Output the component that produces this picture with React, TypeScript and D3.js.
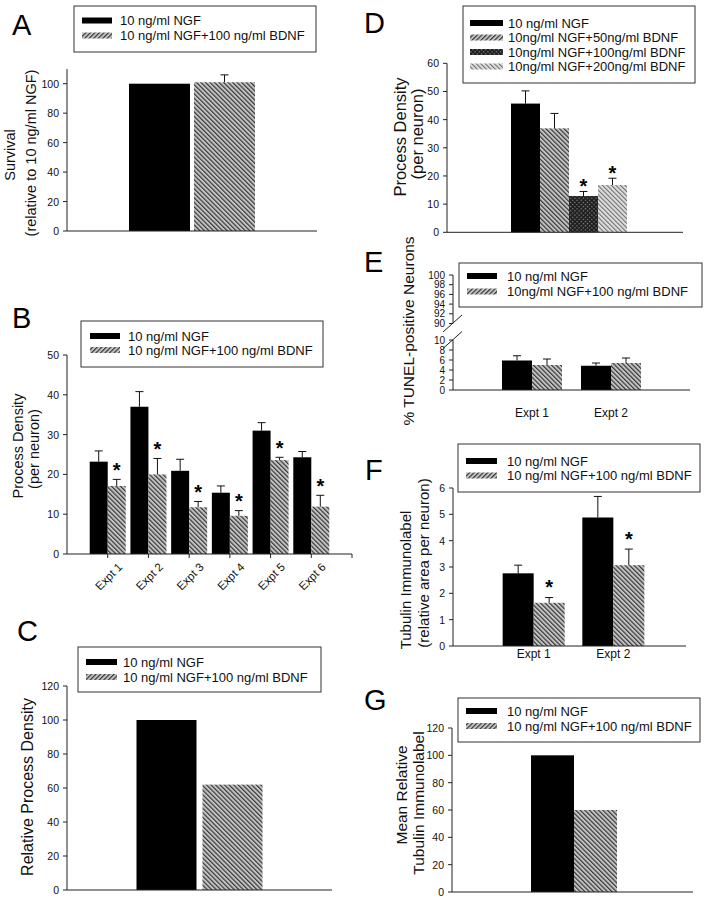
import React from "react";
import * as d3 from "d3";

const W = 709;
const H = 900;
const FONT = "Liberation Sans, Arial, Helvetica, sans-serif";

// ---------- legend labels ----------
const legendTwo = ["10 ng/ml NGF", "10 ng/ml NGF+100 ng/ml BDNF"];
const legendD = [
  "10 ng/ml NGF",
  "10ng/ml NGF+50ng/ml BDNF",
  "10ng/ml NGF+100ng/ml BDNF",
  "10ng/ml NGF+200ng/ml BDNF",
];
const legendE = ["10 ng/ml NGF", "10ng/ml NGF+100 ng/ml BDNF"];

// ---------- Panel A ----------
const aCategories = ["Survival"];
const aNGF = [100];
const aNGFErr = [0];
const aBDNF = [101];
const aBDNFErr = [5];
const aTicks = [0, 20, 40, 60, 80, 100];

// ---------- Panel B ----------
const bCategories = ["Expt 1", "Expt 2", "Expt 3", "Expt 4", "Expt 5", "Expt 6"];
const bNGF = [23.2, 37.0, 20.9, 15.4, 31.0, 24.3];
const bNGFErr = [2.7, 3.8, 2.9, 1.7, 2.0, 1.45];
const bBDNF = [17.1, 20.0, 11.75, 9.6, 23.6, 11.9];
const bBDNFErr = [1.65, 4.0, 1.45, 1.3, 0.7, 2.85];
const bStars = [true, true, true, true, true, true];
const bTicks = [0, 10, 20, 30, 40, 50];

// ---------- Panel C ----------
const cCategories = ["Relative"];
const cNGF = [100];
const cBDNF = [62];
const cTicks = [0, 20, 40, 60, 80, 100, 120];

// ---------- Panel D ----------
const dCategories = ["Dose"];
const dNGF = [45.7];
const dNGFErr = [4.5];
const dBDNF50 = [36.9];
const dBDNF50Err = [5.3];
const dBDNF100 = [12.9];
const dBDNF100Err = [1.6];
const dBDNF200 = [16.8];
const dBDNF200Err = [2.4];
const dStars100 = [true];
const dStars200 = [true];
const dTicks = [0, 10, 20, 30, 40, 50, 60];

// ---------- Panel E ----------
const eCategories = ["Expt 1", "Expt 2"];
const eNGF = [5.9, 4.85];
const eNGFErr = [0.95, 0.55];
const eBDNF = [5.0, 5.4];
const eBDNFErr = [1.2, 1.0];
const eTicks = [0, 2, 4, 6, 8, 10, 90, 92, 94, 96, 98, 100];
const eBreakDomain = [0, 10, 90, 100];

// ---------- Panel F ----------
const fCategories = ["Expt 1", "Expt 2"];
const fNGF = [2.76, 4.88];
const fNGFErr = [0.31, 0.8];
const fBDNF = [1.64, 3.07];
const fBDNFErr = [0.2, 0.61];
const fStars = [true, true];
const fTicks = [0, 1, 2, 3, 4, 5, 6];

// ---------- Panel G ----------
const gCategories = ["Mean"];
const gNGF = [100];
const gBDNF = [60];
const gTicks = [0, 20, 40, 60, 80, 100, 120];

type Series = { values: number[]; errors?: number[]; stars?: boolean[]; fill: string };

type PanelCfg = {
  id: string;
  letter: string;
  letterPos: [number, number];
  axisX: number;
  axisRight: number;
  yDomain: number[];
  yRange: number[];
  yAxisTop: number;
  ySegments?: [number, number][];
  breaks?: number[];
  ticks: number[];
  tickFont: number;
  categories: string[];
  groupRange: [number, number];
  groupPadding: number;
  barWidth: number;
  barGap: number;
  series: Series[];
  starGap: number;
  legend: {
    x: number; y: number; w: number; h: number;
    rowY: number[]; swatchX: number; swatchW: number; textX: number;
    labels: string[]; fills: string[];
  };
  yLabels: { text: string; x: number; y: number }[];
  yLabelFont: number;
  xLabelMode: "none" | "rotated" | "flat";
  xLabelY?: number;
  xTickMarks?: boolean;
};

const BLACK = "#000";
const HATCH = "url(#hatch)";
const HATCH_L = "url(#hatchLegend)";
const CROSS = "url(#cross)";
const LIGHT = "url(#light)";
const LIGHT_L = "url(#lightLegend)";

const panels: PanelCfg[] = [
  {
    id: "A", letter: "A", letterPos: [12, 35],
    axisX: 67, axisRight: 317, yDomain: [0, 100], yRange: [231, 83.7], yAxisTop: 110,
    ticks: aTicks, tickFont: 10.5,
    categories: aCategories, groupRange: [67, 317], groupPadding: 0.5,
    barWidth: 61, barGap: 4,
    series: [
      { values: aNGF, errors: aNGFErr, fill: BLACK },
      { values: aBDNF, errors: aBDNFErr, fill: HATCH },
    ],
    starGap: 14,
    legend: { x: 74, y: 6, w: 242, h: 46, rowY: [20.5, 35.5], swatchX: 82, swatchW: 30, textX: 120, labels: legendTwo, fills: [BLACK, HATCH_L] },
    yLabels: [
      { text: "Survival", x: 10, y: 155 },
      { text: "(relative to 10 ng/ml NGF)", x: 31, y: 153 },
    ],
    yLabelFont: 14.5,
    xLabelMode: "none",
  },
  {
    id: "B", letter: "B", letterPos: [12, 328],
    axisX: 67, axisRight: 352, yDomain: [0, 50], yRange: [554, 355], yAxisTop: 50,
    ticks: bTicks, tickFont: 10.5,
    categories: bCategories, groupRange: [67, 352], groupPadding: 1,
    barWidth: 18, barGap: 0,
    series: [
      { values: bNGF, errors: bNGFErr, fill: BLACK },
      { values: bBDNF, errors: bBDNFErr, stars: bStars, fill: HATCH },
    ],
    starGap: 14,
    legend: { x: 81, y: 321, w: 242, h: 46, rowY: [336, 350], swatchX: 90, swatchW: 30, textX: 128, labels: legendTwo, fills: [BLACK, HATCH_L] },
    yLabels: [
      { text: "Process Density", x: 18, y: 446 },
      { text: "(per neuron)", x: 34, y: 449 },
    ],
    yLabelFont: 14.5,
    xLabelMode: "rotated",
    xTickMarks: true,
  },
  {
    id: "C", letter: "C", letterPos: [17, 641],
    axisX: 67, axisRight: 332, yDomain: [0, 120], yRange: [890, 686], yAxisTop: 120,
    ticks: cTicks, tickFont: 10.5,
    categories: cCategories, groupRange: [67, 332], groupPadding: 0.5,
    barWidth: 60, barGap: 6,
    series: [
      { values: cNGF, fill: BLACK },
      { values: cBDNF, fill: HATCH },
    ],
    starGap: 14,
    legend: { x: 78, y: 647, w: 243, h: 45, rowY: [662, 677], swatchX: 86, swatchW: 31, textX: 123, labels: legendTwo, fills: [BLACK, HATCH_L] },
    yLabels: [{ text: "Relative Process Density", x: 27, y: 787 }],
    yLabelFont: 16,
    xLabelMode: "none",
  },
  {
    id: "D", letter: "D", letterPos: [364, 33],
    axisX: 447, axisRight: 683, yDomain: [0, 60], yRange: [232.3, 63.3], yAxisTop: 60,
    ticks: dTicks, tickFont: 10.5,
    categories: dCategories, groupRange: [447, 691], groupPadding: 0.5,
    barWidth: 29, barGap: 0,
    series: [
      { values: dNGF, errors: dNGFErr, fill: BLACK },
      { values: dBDNF50, errors: dBDNF50Err, fill: HATCH },
      { values: dBDNF100, errors: dBDNF100Err, stars: dStars100, fill: CROSS },
      { values: dBDNF200, errors: dBDNF200Err, stars: dStars200, fill: LIGHT },
    ],
    starGap: 10,
    legend: {
      x: 463, y: 6, w: 232, h: 77, rowY: [23, 37.5, 52, 66.5], swatchX: 470, swatchW: 33, textX: 508,
      labels: legendD, fills: [BLACK, HATCH_L, CROSS, LIGHT_L],
    },
    yLabels: [
      { text: "Process Density", x: 400, y: 137 },
      { text: "(per neuron)", x: 417, y: 134 },
    ],
    yLabelFont: 16.5,
    xLabelMode: "none",
  },
  {
    id: "E", letter: "E", letterPos: [364, 272],
    axisX: 453, axisRight: 690, yDomain: eBreakDomain, yRange: [390, 340, 323.5, 275], yAxisTop: 100,
    ySegments: [[0, 10], [90, 100]], breaks: [10, 90],
    ticks: eTicks, tickFont: 10,
    categories: eCategories, groupRange: [453, 690], groupPadding: 1,
    barWidth: 30, barGap: 0,
    series: [
      { values: eNGF, errors: eNGFErr, fill: BLACK },
      { values: eBDNF, errors: eBDNFErr, fill: HATCH },
    ],
    starGap: 12,
    legend: { x: 459, y: 263, w: 243, h: 44, rowY: [276, 291.5], swatchX: 467, swatchW: 30, textX: 507, labels: legendE, fills: [BLACK, HATCH_L] },
    yLabels: [{ text: "% TUNEL-positive Neurons", x: 408, y: 331 }],
    yLabelFont: 15.5,
    xLabelMode: "flat",
    xLabelY: 413,
  },
  {
    id: "F", letter: "F", letterPos: [365, 480],
    axisX: 453, axisRight: 686, yDomain: [0, 6], yRange: [646, 488], yAxisTop: 6,
    ticks: fTicks, tickFont: 10.5,
    categories: fCategories, groupRange: [454, 693], groupPadding: 1,
    barWidth: 31, barGap: 0,
    series: [
      { values: fNGF, errors: fNGFErr, fill: BLACK },
      { values: fBDNF, errors: fBDNFErr, stars: fStars, fill: HATCH },
    ],
    starGap: 15,
    legend: { x: 458, y: 444, w: 242, h: 48, rowY: [461, 475.5], swatchX: 466, swatchW: 31, textX: 507, labels: legendTwo, fills: [BLACK, HATCH_L] },
    yLabels: [
      { text: "Tubulin Immunolabel", x: 405, y: 580 },
      { text: "(relative area per neuron)", x: 423, y: 563 },
    ],
    yLabelFont: 15,
    xLabelMode: "flat",
    xLabelY: 654,
  },
  {
    id: "G", letter: "G", letterPos: [364, 710],
    axisX: 452, axisRight: 693, yDomain: [0, 120], yRange: [892, 728], yAxisTop: 120,
    ticks: gTicks, tickFont: 10.5,
    categories: gCategories, groupRange: [452, 696], groupPadding: 0.5,
    barWidth: 43, barGap: 0,
    series: [
      { values: gNGF, fill: BLACK },
      { values: gBDNF, fill: HATCH },
    ],
    starGap: 14,
    legend: { x: 458, y: 698, w: 242, h: 44, rowY: [711, 726], swatchX: 466, swatchW: 31, textX: 507, labels: legendTwo, fills: [BLACK, HATCH_L] },
    yLabels: [
      { text: "Mean Relative", x: 401, y: 795 },
      { text: "Tubulin Immunolabel", x: 418, y: 803 },
    ],
    yLabelFont: 15.5,
    xLabelMode: "none",
  },
];

const AXIS = "#222";
const TXT = { fontFamily: FONT };

function Panel({ cfg }: { cfg: PanelCfg }) {
  const y = d3.scaleLinear().domain(cfg.yDomain).range(cfg.yRange);
  const xg = d3
    .scalePoint<string>()
    .domain(cfg.categories)
    .range(cfg.groupRange)
    .padding(cfg.groupPadding);
  const n = cfg.series.length;
  const total = n * cfg.barWidth + (n - 1) * cfg.barGap;
  const barX = (cat: string, i: number) =>
    (xg(cat) as number) - total / 2 + i * (cfg.barWidth + cfg.barGap);
  const y0 = y(0);
  const segments = cfg.ySegments ?? [[0, cfg.yAxisTop]];
  const L = cfg.legend;

  return (
    <g>
      <text x={cfg.letterPos[0]} y={cfg.letterPos[1]} fontSize={29} fill="#000" style={TXT}>
        {cfg.letter}
      </text>

      {cfg.series.map((s, si) =>
        cfg.categories.map((cat, ci) => {
          const v = s.values[ci];
          const x = barX(cat, si);
          return (
            <rect key={`b${si}-${ci}`} x={x} y={y(v)} width={cfg.barWidth} height={y0 - y(v)} fill={s.fill} />
          );
        })
      )}

      {cfg.series.map((s, si) =>
        cfg.categories.map((cat, ci) => {
          const err = s.errors ? s.errors[ci] : 0;
          const v = s.values[ci];
          const cx = barX(cat, si) + cfg.barWidth / 2;
          const top = y(v + err);
          const star = s.stars && s.stars[ci];
          return (
            <g key={`e${si}-${ci}`}>
              {err > 0 && (
                <g stroke="#111" strokeWidth={1}>
                  <line x1={cx} x2={cx} y1={y(v)} y2={top} />
                  <line x1={cx - 4} x2={cx + 4} y1={top} y2={top} />
                </g>
              )}
              {star && (
                <text x={cx} y={top - cfg.starGap + 11.6} fontSize={20} fontWeight="bold" textAnchor="middle" style={TXT} fill="#000">
                  *
                </text>
              )}
            </g>
          );
        })
      )}

      {segments.map(([a, b], i) => (
        <line key={`ys${i}`} x1={cfg.axisX} x2={cfg.axisX} y1={y(a)} y2={y(b)} stroke={AXIS} strokeWidth={1} />
      ))}
      {(cfg.breaks ?? []).map((bv, i) => (
        <line key={`br${i}`} x1={cfg.axisX - 10} x2={cfg.axisX + 9} y1={y(bv) + 8.5} y2={y(bv) - 8.5} stroke={AXIS} strokeWidth={1} />
      ))}
      {cfg.ticks.map((t) => (
        <g key={`t${t}`}>
          <line x1={cfg.axisX - 4} x2={cfg.axisX} y1={y(t)} y2={y(t)} stroke={AXIS} strokeWidth={1} />
          <text x={cfg.axisX - 8} y={y(t)} fontSize={cfg.tickFont} textAnchor="end" dominantBaseline="central" style={TXT} fill="#111">
            {t}
          </text>
        </g>
      ))}

      <line x1={cfg.axisX} x2={cfg.axisRight} y1={y0} y2={y0} stroke={AXIS} strokeWidth={1} />
      {cfg.xTickMarks &&
        cfg.categories.map((cat) => (
          <line key={`xt${cat}`} x1={xg(cat) as number} x2={xg(cat) as number} y1={y0} y2={y0 + 4} stroke={AXIS} strokeWidth={1} />
        ))}
      {cfg.xTickMarks && (
        <line x1={cfg.axisRight} x2={cfg.axisRight} y1={y0} y2={y0 + 4} stroke={AXIS} strokeWidth={1} />
      )}
      {cfg.xLabelMode === "rotated" &&
        cfg.categories.map((cat) => (
          <text
            key={`xl${cat}`}
            transform={`translate(${(xg(cat) as number) + 12.5},${y0 + 11}) rotate(-45)`}
            fontSize={11.5}
            textAnchor="end"
            dominantBaseline="central"
            style={TXT}
            fill="#111"
          >
            {cat}
          </text>
        ))}
      {cfg.xLabelMode === "flat" &&
        cfg.categories.map((cat) => (
          <text key={`xl${cat}`} x={xg(cat) as number} y={cfg.xLabelY} fontSize={12} textAnchor="middle" dominantBaseline="central" style={TXT} fill="#111">
            {cat}
          </text>
        ))}

      {cfg.yLabels.map((l, i) => (
        <text
          key={`yl${i}`}
          transform={`translate(${l.x},${l.y}) rotate(-90)`}
          fontSize={cfg.yLabelFont}
          textAnchor="middle"
          dominantBaseline="central"
          style={TXT}
          fill="#111"
        >
          {l.text}
        </text>
      ))}

      <rect x={L.x} y={L.y} width={L.w} height={L.h} fill="#fff" stroke="#333" strokeWidth={1} />
      {L.labels.map((lab, i) => (
        <g key={`lg${i}`}>
          <rect x={L.swatchX} y={L.rowY[i] - 3} width={L.swatchW} height={6} fill={L.fills[i]} />
          <text x={L.textX} y={L.rowY[i]} fontSize={13} dominantBaseline="central" style={TXT} fill="#111">
            {lab}
          </text>
        </g>
      ))}
    </g>
  );
}

export default function App() {
  return (
    <svg
      width={W}
      height={H}
      viewBox={`0 0 ${W} ${H}`}
      style={{ position: "absolute", left: 0, top: 0, background: "#fff", fontFamily: FONT }}
    >
      <defs>
        <pattern id="hatch" patternUnits="userSpaceOnUse" width={3.2} height={3.2} patternTransform="rotate(-45)">
          <rect width={3.2} height={3.2} fill="#c4c4c4" />
          <rect width={1.2} height={3.2} fill="#383838" />
        </pattern>
        <pattern id="hatchLegend" patternUnits="userSpaceOnUse" width={3.2} height={3.2} patternTransform="rotate(45)">
          <rect width={3.2} height={3.2} fill="#c4c4c4" />
          <rect width={1.2} height={3.2} fill="#383838" />
        </pattern>
        <pattern id="light" patternUnits="userSpaceOnUse" width={3.2} height={3.2} patternTransform="rotate(-45)">
          <rect width={3.2} height={3.2} fill="#dcdcdc" />
          <rect width={1} height={3.2} fill="#6a6a6a" />
        </pattern>
        <pattern id="lightLegend" patternUnits="userSpaceOnUse" width={3.2} height={3.2} patternTransform="rotate(-45)">
          <rect width={3.2} height={3.2} fill="#dcdcdc" />
          <rect width={1} height={3.2} fill="#6a6a6a" />
        </pattern>
        <pattern id="cross" patternUnits="userSpaceOnUse" width={3} height={3} patternTransform="rotate(45)">
          <rect width={3} height={3} fill="#1c1c1c" />
          <rect width={1.3} height={1.3} fill="#8a8a8a" />
        </pattern>
      </defs>
      <rect width={W} height={H} fill="#fff" />
      {panels.map((p) => (
        <Panel key={p.id} cfg={p} />
      ))}
    </svg>
  );
}
